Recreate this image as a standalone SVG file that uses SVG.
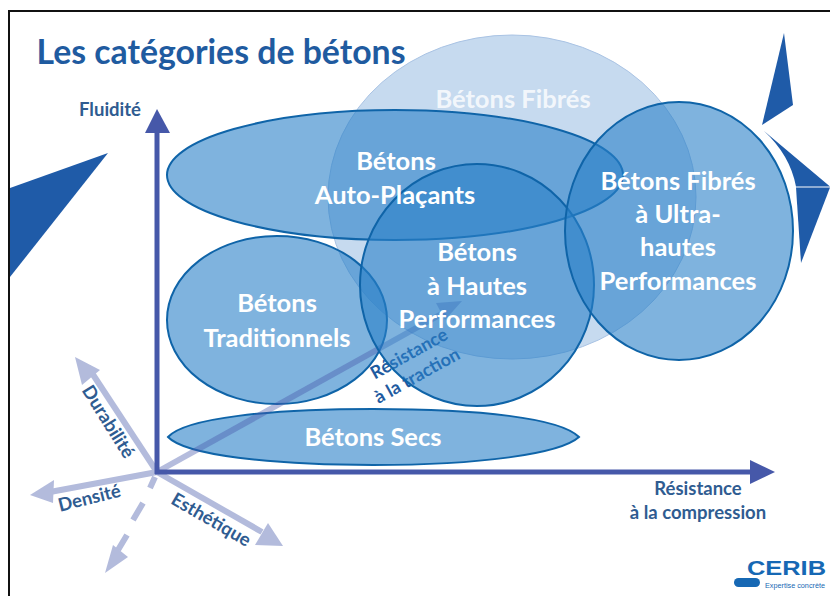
<svg xmlns="http://www.w3.org/2000/svg" width="830" height="596" viewBox="0 0 830 596">
<style>
text{font-family:Lato,"Open Sans","Liberation Sans",sans-serif;font-weight:700;text-anchor:middle}
.w{fill:#fff;font-size:25.5px}
.d{fill:#2f5c91;font-size:18.5px}
.r{fill:#1f5ba0;font-size:18px}
.n{fill:#2a80c8;fill-opacity:.6;stroke:#0f64a8;stroke-width:2}
.t{fill:#1f5ba8}
.ax{stroke:#4658a9;stroke-width:5;fill:none}
.lt{stroke:#b3bbdc;stroke-width:6;fill:none}
.lf{fill:#b3bbdc}
.lg{fill:#1668b4;font-family:"Liberation Sans",sans-serif}
</style>
<rect width="830" height="596" fill="#fff"/>
<path d="M9 596V11H830" fill="none" stroke="#111" stroke-width="2"/>
<g id="decor">
<path class="t" d="M10 188L108 153L10 277Z"/>
<path class="t" d="M784 33L793 105L762 125Z"/>
<path class="t" d="M764 131L830 186.5H796Q790 155 764 131Z"/>
<path class="t" d="M796 187.5H830L801 263Z"/>
</g>
<text x="221" y="64" style="font-size:33.8px;fill:#1f5ba0">Les catégories de bétons</text>
<g id="connectors">
<path class="lt" d="M157 472L88 367"/><path class="lf" d="M75 357L100 370L82 385Z"/>
<path class="lt" d="M157 472L50 492"/><path class="lf" d="M30 495L54 480L53 503Z"/>
<path class="lt" d="M157 472L262 532"/><path class="lf" d="M283 546L268 523L255 545Z"/>
<path class="lt" d="M155 477L150 488M143 503L133 520M127 535L118 550"/><path class="lf" d="M105 573L113 545L128 557Z"/>
</g>
<g id="betons-fibres">
<ellipse cx="512" cy="197" rx="184" ry="162" fill="#8db5e0" fill-opacity=".5" stroke="#a9c3e4" stroke-width="1"/>
<text class="w" x="513" y="108" fill-opacity=".8">Bétons Fibrés</text>
</g>
<g id="betons-auto-placants">
<ellipse class="n" cx="395" cy="175" rx="228" ry="65"/>
</g>
<g id="betons-traditionnels">
<ellipse class="n" cx="277" cy="320" rx="110" ry="84"/>
<text class="w" x="277" y="312">Bétons</text>
<text class="w" x="277" y="347">Traditionnels</text>
</g>
<g id="betons-secs">
<path class="n" d="M168 437C185 418 270 409 373 409C480 409 560 418 579 437C560 454 480 465 373 465C270 465 185 455 168 437Z"/>
<text class="w" x="373" y="446">Bétons Secs</text>
</g>
<g id="diagonal">
<path d="M157 472L445 312" fill="none" stroke="#4658a9" stroke-opacity=".4" stroke-width="6"/>
<path d="M462 301L436 303L445 320Z" fill="#4658a9" fill-opacity=".4"/>
<text class="r" transform="translate(412 359) rotate(-29)">Résistance</text>
<text class="r" transform="translate(420 381) rotate(-29)">à la traction</text>
</g>
<g id="betons-hautes-performances">
<ellipse class="n" cx="477" cy="285" rx="117" ry="121"/>
<text class="w" x="477" y="261">Bétons</text>
<text class="w" x="477" y="295">à Hautes</text>
<text class="w" x="477" y="328">Performances</text>
</g>
<g id="betons-ultra">
<ellipse class="n" cx="679" cy="231" rx="114" ry="129"/>
<text class="w" x="678" y="190">Bétons Fibrés</text>
<text class="w" x="678" y="223">à Ultra-</text>
<text class="w" x="678" y="256">hautes</text>
<text class="w" x="678" y="290">Performances</text>
</g>
<text class="w" x="396" y="170">Bétons</text>
<text class="w" x="395" y="204">Auto-Plaçants</text>
<g id="axes">
<path class="ax" d="M157 474V132"/><path d="M157 109L170 133H145Z" fill="#4658a9"/>
<path class="ax" d="M155 472H752"/><path d="M775 472L750 460V484Z" fill="#4658a9"/>
</g>
<g id="labels">
<text class="d" x="110" y="116">Fluidité</text>
<text class="d" x="698" y="495">Résistance</text>
<text class="d" x="698" y="519">à la compression</text>
<text class="d" transform="translate(103 425) rotate(58)">Durabilité</text>
<text class="d" transform="translate(91 504) rotate(-14)">Densité</text>
<text class="d" transform="translate(208 525) rotate(30)">Esthétique</text>
</g>
<g id="logo">
<text class="lg" x="747" y="575" textLength="79" lengthAdjust="spacingAndGlyphs" style="font-size:21px;text-anchor:start">CERIB</text>
<rect x="734" y="578" width="26" height="9" rx="4.5" fill="#1668b4"/>
<text class="lg" x="765" y="588" textLength="60" lengthAdjust="spacingAndGlyphs" style="font-size:8px;font-weight:400;text-anchor:start">Expertise concrète</text>
</g>
</svg>
